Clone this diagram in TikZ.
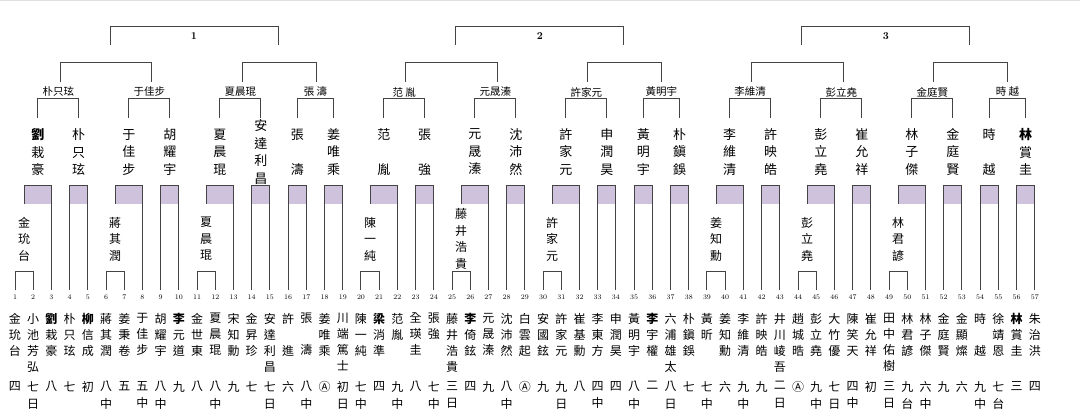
\documentclass[tikz,border=0pt]{standalone}
\usepackage{fontspec}
\newfontfamily\cjk{Noto Sans CJK TC}
\definecolor{lc}{HTML}{444444}
\definecolor{pur}{HTML}{CEC2DD}
\begin{document}
\begin{tikzpicture}[x=1pt,y=-1pt,
 bl/.style={draw=lc,line width=1pt},
 bname/.style={font=\cjk\fontsize{12}{16}\selectfont, align=center, inner sep=0pt, anchor=north},
 rank/.style={font=\cjk\fontsize{12}{17.5}\selectfont, align=center, inner sep=0pt, anchor=north},
 num/.style={font=\fontsize{7}{8}\selectfont, inner sep=0pt},
 win/.style={font=\cjk\fontsize{13}{17.5}\selectfont, align=center, inner sep=0pt},
 pwin/.style={font=\cjk\fontsize{12}{16.5}\selectfont, align=center, inner sep=0pt},
 rlab/.style={font=\cjk\fontsize{10.5}{12}\selectfont, inner sep=0pt},
 glab/.style={font=\fontsize{10.5}{12}\selectfont\bfseries, inner sep=0pt}]
\useasboundingbox (0,0) rectangle (1080,419);
\fill[white] (0,0) rectangle (1080,419);
\draw[draw=black!12, line width=1.5pt] (0,0.75) -- (1080,0.75);
\def\stp{18.21}
\foreach \g in {1,2,3}{
 \begin{scope}[xshift={(\g-1)*345.99}]
 \foreach \p in {1,6,11}{
   \pgfmathsetmacro\xa{15+(\p-1)*\stp}
   \pgfmathsetmacro\xb{\xa+\stp}
   \pgfmathsetmacro\xc{\xa+2*\stp}
   \pgfmathsetmacro\xl{\xa+0.5*\stp}
   \fill[pur] (\xl,186) rectangle (\xc,204);
   \draw[bl] (\xa,290) -- (\xa,272) -- (\xb,272) -- (\xb,290);
   \draw[bl] (\xl,204) -- (\xl,186) -- (\xc,186) -- (\xc,290);
   \coordinate (p\g-\p) at (\xl,239);
 }
 \foreach \q in {4,9,14,16,18}{
   \pgfmathsetmacro\xa{15+(\q-1)*\stp}
   \pgfmathsetmacro\xb{\xa+\stp}
   \fill[pur] (\xa,186) rectangle (\xb,204);
   \draw[bl] (\xa,290) -- (\xa,186) -- (\xb,186) -- (\xb,290);
 }
 \foreach \k/\bx in {1/37.76,2/78.74,3/128.81,4/169.79,5/219.86,6/260.84,7/297.26,8/333.68}{
   \coordinate (b\g-\k) at (\bx,152);
 }
 \foreach \a/\b/\m/\k in {37.76/78.74/58.25/1, 128.81/169.79/149.30/2, 219.86/260.84/240.35/3, 297.26/333.68/315.47/4}{
   \draw[bl] (\a,118) -- (\a,99) -- (\b,99) -- (\b,118);
   \coordinate (m\g-\k) at (\m,92);
 }
 \draw[bl] (60,82) -- (60,63) -- (151.5,63) -- (151.5,82);
 \draw[bl] (242,82) -- (242,63) -- (316,63) -- (316,82);
 \draw[bl] (110,45) -- (110,27) -- (278,27) -- (278,45);
 \coordinate (t\g) at (194,36);
 \end{scope}
}
\foreach \g in {1,2,3}{\node[glab] (gl\g) at (t\g) {\g};}
\foreach \g/\k/\nm in {1/1/朴只玹,1/2/于佳步,1/3/夏晨琨,1/4/張~濤,
  2/1/范~胤,2/2/元晟溱,2/3/許家元,2/4/黃明宇,
  3/1/李維清,3/2/彭立堯,3/3/金庭賢,3/4/時~越}{
  \node[rlab] (l\g-\k) at (m\g-\k) {\nm};
}
\foreach \g/\k/\nm in {
  1/1/{{\bfseries 劉}\\栽\\豪},1/2/{朴\\只\\玹},1/3/{于\\佳\\步},1/4/{胡\\耀\\宇},
  1/5/{夏\\晨\\琨},1/6/{安\\達\\利\\昌},1/7/{張\\~\\濤},1/8/{姜\\唯\\乘},
  2/1/{范\\~\\胤},2/2/{張\\~\\強},2/3/{元\\晟\\溱},2/4/{沈\\沛\\然},
  2/5/{許\\家\\元},2/6/{申\\潤\\昊},2/7/{黃\\明\\宇},2/8/{朴\\鎭\\鋘},
  3/1/{李\\維\\清},3/2/{許\\映\\皓},3/3/{彭\\立\\堯},3/4/{崔\\允\\祥},
  3/5/{林\\子\\傑},3/6/{金\\庭\\賢},3/7/{時\\~\\越},3/8/{{\bfseries 林}\\賞\\圭}}{
  \node[win] (w\g-\k) at (b\g-\k) {\nm};
}
\foreach \g/\p/\nm in {1/1/{金\\玧\\台},1/6/{蔣\\其\\潤},1/11/{夏\\晨\\琨},
  2/1/{陳\\一\\純},2/6/{藤\\井\\浩\\貴},2/11/{許\\家\\元},
  3/1/{姜\\知\\勳},3/6/{彭\\立\\堯},3/11/{林\\君\\諺}}{
  \node[pwin] (q\g-\p) at (p\g-\p) {\nm};
}
\foreach \i/\nm/\rk in {
 1/{金\\玧\\台}/{四},
 2/{小\\池\\芳\\弘}/{七\\日},
 3/{{\bfseries 劉}\\栽\\豪}/{八},
 4/{朴\\只\\玹}/{七},
 5/{{\bfseries 柳}\\信\\成}/{初},
 6/{蔣\\其\\潤}/{八\\中},
 7/{姜\\秉\\卷}/{五},
 8/{于\\佳\\步}/{五\\中},
 9/{胡\\耀\\宇}/{八\\中},
 10/{{\bfseries 李}\\元\\道}/{九},
 11/{金\\世\\東}/{八},
 12/{夏\\晨\\琨}/{八\\中},
 13/{宋\\知\\勳}/{九},
 14/{金\\昇\\珍}/{七},
 15/{安\\達\\利\\昌}/{七\\日},
 16/{許\\~\\進}/{六},
 17/{張\\~\\濤}/{八\\中},
 18/{姜\\唯\\乘}/{Ⓐ},
 19/{川\\端\\篤\\士}/{初\\日},
 20/{陳\\一\\純}/{七\\中},
 21/{{\bfseries 梁}\\消\\準}/{四},
 22/{范\\胤}/{九\\中},
 23/{全\\瑛\\圭}/{八},
 24/{張\\強}/{七\\中},
 25/{藤\\井\\浩\\貴}/{三\\日},
 26/{{\bfseries 李}\\倚\\鉉}/{四},
 27/{元\\晟\\溱}/{九},
 28/{沈\\沛\\然}/{八\\中},
 29/{白\\雲\\起}/{Ⓐ},
 30/{安\\國\\鉉}/{九},
 31/{許\\家\\元}/{九\\日},
 32/{崔\\基\\勳}/{八},
 33/{李\\東\\方}/{四\\中},
 34/{申\\潤\\昊}/{四},
 35/{黃\\明\\宇}/{八\\中},
 36/{{\bfseries 李}\\宇\\權}/{二},
 37/{六\\浦\\雄\\太}/{八\\日},
 38/{朴\\鎭\\鋘}/{七},
 39/{黃\\昕}/{七\\中},
 40/{姜\\知\\勳}/{六},
 41/{李\\維\\清}/{九\\中},
 42/{許\\映\\皓}/{九},
 43/{井\\川\\崚\\吾}/{二\\日},
 44/{趙\\城\\晧}/{Ⓐ},
 45/{彭\\立\\堯}/{九\\中},
 46/{大\\竹\\優}/{七\\日},
 47/{陳\\笑\\天}/{四\\中},
 48/{崔\\允\\祥}/{初},
 49/{田\\中\\佑\\樹}/{三\\日},
 50/{林\\君\\諺}/{九\\台},
 51/{林\\子\\傑}/{六\\中},
 52/{金\\庭\\賢}/{九},
 53/{金\\顯\\燦}/{六},
 54/{時\\~\\越}/{九\\中},
 55/{徐\\靖\\恩}/{七\\台},
 56/{{\bfseries 林}\\賞\\圭}/{三},
 57/{朱\\治\\洪}/{四}}{
 \pgfmathsetmacro\xx{15+(\i-1)*\stp}
 \node[num] (k\i) at (\xx,297) {\i};
 \node[bname] (n\i) at (\xx,313) {\nm};
 \node[rank] (r\i) at (\xx,381) {\rk};
}
\end{tikzpicture}
\end{document}
